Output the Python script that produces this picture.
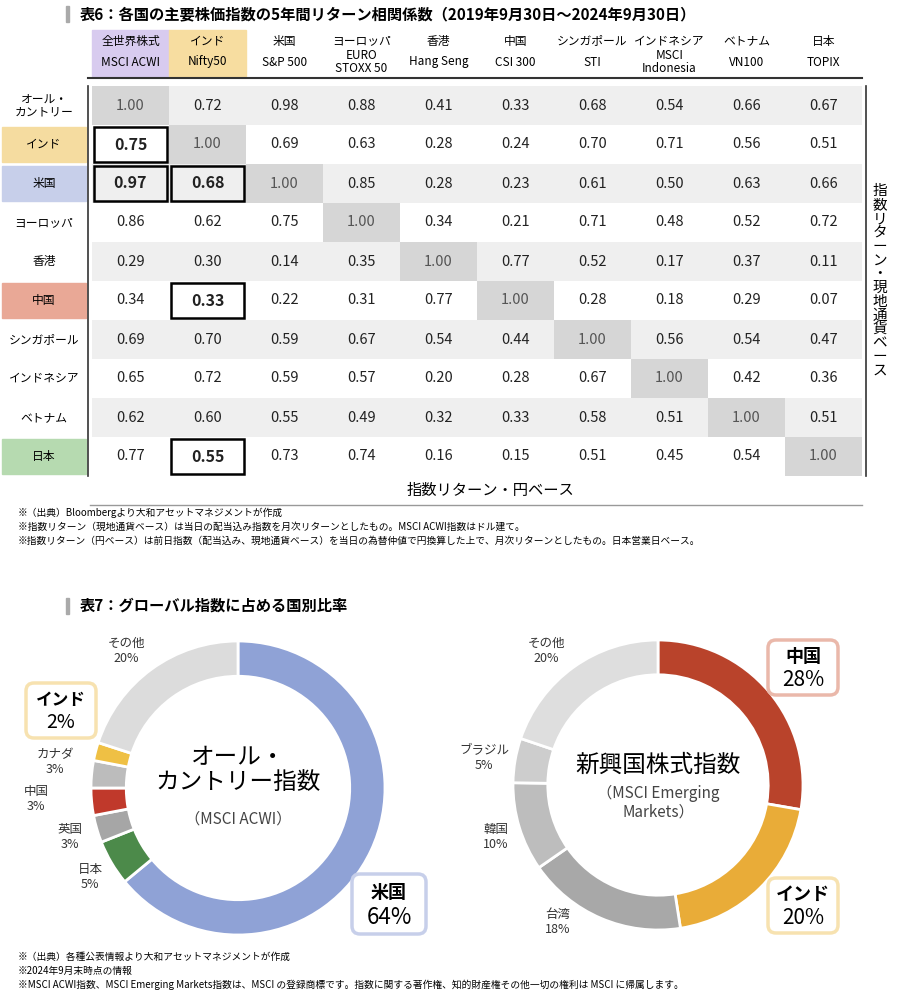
import numpy as np, pandas as pd, seaborn as sns
import matplotlib
matplotlib.use("Agg")
import matplotlib.pyplot as plt
from matplotlib.patches import Rectangle, FancyBboxPatch
from matplotlib.colors import ListedColormap

plt.rcParams["font.family"] = ["Noto Sans CJK JP", "DejaVu Sans"]

col_top = ["全世界株式", "インド", "米国", "ヨーロッパ", "香港", "中国", "シンガポール", "インドネシア", "ベトナム", "日本"]
col_bot = ["MSCI ACWI", "Nifty50", "S&P 500", "EURO\nSTOXX 50", "Hang Seng", "CSI 300", "STI", "MSCI\nIndonesia", "VN100", "TOPIX"]
row_labels = ["オール・\nカントリー", "インド", "米国", "ヨーロッパ", "香港", "中国", "シンガポール", "インドネシア", "ベトナム", "日本"]
corr = [
    [1.00, 0.72, 0.98, 0.88, 0.41, 0.33, 0.68, 0.54, 0.66, 0.67],
    [0.75, 1.00, 0.69, 0.63, 0.28, 0.24, 0.70, 0.71, 0.56, 0.51],
    [0.97, 0.68, 1.00, 0.85, 0.28, 0.23, 0.61, 0.50, 0.63, 0.66],
    [0.86, 0.62, 0.75, 1.00, 0.34, 0.21, 0.71, 0.48, 0.52, 0.72],
    [0.29, 0.30, 0.14, 0.35, 1.00, 0.77, 0.52, 0.17, 0.37, 0.11],
    [0.34, 0.33, 0.22, 0.31, 0.77, 1.00, 0.28, 0.18, 0.29, 0.07],
    [0.69, 0.70, 0.59, 0.67, 0.54, 0.44, 1.00, 0.56, 0.54, 0.47],
    [0.65, 0.72, 0.59, 0.57, 0.20, 0.28, 0.67, 1.00, 0.42, 0.36],
    [0.62, 0.60, 0.55, 0.49, 0.32, 0.33, 0.58, 0.51, 1.00, 0.51],
    [0.77, 0.55, 0.73, 0.74, 0.16, 0.15, 0.51, 0.45, 0.54, 1.00],
]
highlight = [(1, 0), (2, 0), (2, 1), (5, 1), (9, 1)]

acwi_labels = ["米国", "日本", "英国", "中国", "カナダ", "インド", "その他"]
acwi_vals = [64, 5, 3, 3, 3, 2, 20]
acwi_cols = ["#8fa2d6", "#4c8a4a", "#a6a6a6", "#c0392b", "#bcbcbc", "#efc044", "#dcdcdc"]
em_labels = ["中国", "インド", "台湾", "韓国", "ブラジル", "その他"]
em_vals = [28, 20, 18, 10, 5, 20]
em_cols = ["#b9432b", "#e9ac38", "#a8a8a8", "#bdbdbd", "#cdcdcd", "#dedede"]

W, H = 902, 994
fig = plt.figure(figsize=(W/100, H/100), dpi=100)

def ax_px(x0, y0, x1, y1):
    return fig.add_axes([x0/W, 1-y1/H, (x1-x0)/W, (y1-y0)/H])

# overlay axes in pixel coordinates
ov = fig.add_axes([0, 0, 1, 1], zorder=5)
ov.set_xlim(0, W); ov.set_ylim(H, 0); ov.axis("off")

# heatmap table
n = len(corr)
bg = np.array([[2 if i == j else (1 if i % 2 == 0 else 0) for j in range(n)] for i in range(n)])
df = pd.DataFrame(corr, index=row_labels, columns=col_bot)
hx = ax_px(92, 86, 862, 476)
sns.heatmap(pd.DataFrame(bg), cmap=ListedColormap(["#ffffff", "#efefef", "#d6d6d6"]), vmin=0, vmax=2,
            cbar=False, annot=df.map(lambda v: f"{v:.2f}").values, fmt="", ax=hx,
            annot_kws={"fontsize": 10.5, "color": "#222"}, linewidths=0)
for t in hx.texts:
    x, y = t.get_position()
    i, j = int(y), int(x)
    if (i, j) in highlight:
        t.set_fontweight("bold"); t.set_fontsize(11.5)
    if i == j:
        t.set_color("#555")
for (i, j) in highlight:
    hx.add_patch(Rectangle((j+0.02, i+0.04), 0.96, 0.92, fill=False, lw=1.8, ec="black", zorder=4))
hx.set_xticks([]); hx.set_yticks([]); hx.set_xlabel(""); hx.set_ylabel("")
for s in hx.spines.values(): s.set_visible(False)

cw, rh = 77, 39
# title
ov.add_patch(Rectangle((66, 6), 3, 16, color="#aaaaaa"))
ov.text(80, 14, "表6：各国の主要株価指数の5年間リターン相関係数（2019年9月30日～2024年9月30日）",
        fontsize=11, fontweight="bold", va="center")
# headers
hdr_bg = {0: "#d8cbef", 1: "#f7dda0"}
for j in range(n):
    cx = 92 + cw*j + cw/2
    if j in hdr_bg:
        ov.add_patch(Rectangle((92+cw*j, 30), cw, 46, color=hdr_bg[j], zorder=0))
    ov.text(cx, 41, col_top[j], ha="center", va="center", fontsize=8.5)
    ov.text(cx, 62, col_bot[j], ha="center", va="center", fontsize=8.5, linespacing=0.95)
ov.plot([88, 862], [78, 78], color="#333", lw=1.5)
# row labels
row_bg = {1: "#f5dca0", 2: "#c7cfea", 5: "#e9a896", 9: "#b6dab0"}
for i in range(n):
    cy = 86 + rh*i + rh/2
    if i in row_bg:
        ov.add_patch(Rectangle((2, 86+rh*i+2), 84, rh-4, color=row_bg[i], zorder=0))
    ov.text(44, cy, row_labels[i], ha="center", va="center", fontsize=8.5, linespacing=1.0)
ov.plot([88, 88], [86, 476], color="#333", lw=1.2)
ov.plot([866, 866], [86, 476], color="#333", lw=1.2)
ov.text(880, 281, "\n".join("指数リターン・現地通貨ベース"), ha="center", va="center", fontsize=10.5, linespacing=0.98)
ov.text(490, 490, "指数リターン・円ベース", ha="center", va="center", fontsize=11)
ov.plot([90, 862], [505, 505], color="#999", lw=1)
notes1 = ["※（出典）Bloombergより大和アセットマネジメントが作成",
          "※指数リターン（現地通貨ベース）は当日の配当込み指数を月次リターンとしたもの。MSCI ACWI指数はドル建て。",
          "※指数リターン（円ベース）は前日指数（配当込み、現地通貨ベース）を当日の為替仲値で円換算した上で、月次リターンとしたもの。日本営業日ベース。"]
for k, s in enumerate(notes1):
    ov.text(18, 513+k*14, s, fontsize=7, va="center")

# section 2 title
ov.add_patch(Rectangle((66, 598), 3, 16, color="#aaaaaa"))
ov.text(80, 606, "表7：グローバル指数に占める国別比率", fontsize=11, fontweight="bold", va="center")

def donut(cx, cy, r, vals, cols):
    a = ax_px(cx-r, cy-r, cx+r, cy+r)
    a.pie(vals, colors=cols, startangle=90, counterclock=False,
          wedgeprops=dict(width=0.24, edgecolor="white", linewidth=2))
    a.set_xlim(-1, 1); a.set_ylim(-1, 1); a.set_aspect("equal")

donut(238, 788, 147, acwi_vals, acwi_cols)
donut(658, 785, 145, em_vals, em_cols)

ov.text(238, 770, "オール・\nカントリー指数", ha="center", va="center", fontsize=17, linespacing=1.15)
ov.text(238, 819, "（MSCI ACWI）", ha="center", va="center", fontsize=11, color="#444")
ov.text(658, 765, "新興国株式指数", ha="center", va="center", fontsize=17)
ov.text(658, 803, "（MSCI Emerging\nMarkets）", ha="center", va="center", fontsize=11, color="#444", linespacing=1.1)

def box(x0, y0, w, h, ec, t1, t2, fs1=13, fs2=15):
    ov.add_patch(FancyBboxPatch((x0, y0), w, h, boxstyle="round,pad=0,rounding_size=8",
                                fc="white", ec=ec, lw=2.5, zorder=6))
    ov.text(x0+w/2, y0+h*0.3, t1, ha="center", va="center", fontsize=fs1, fontweight="bold", zorder=7)
    ov.text(x0+w/2, y0+h*0.72, t2, ha="center", va="center", fontsize=fs2, zorder=7)

box(352, 874, 74, 60, "#c7cfea", "米国", "64%", 13, 16)
box(26, 683, 70, 55, "#f7e2b0", "インド", "2%", 12, 14)
box(768, 640, 70, 55, "#eab8aa", "中国", "28%", 13, 15)
box(768, 878, 70, 55, "#f7e2b0", "インド", "20%", 13, 15)

small = [(126, 651, "その他\n20%"), (55, 762, "カナダ\n3%"), (36, 799, "中国\n3%"), (70, 837, "英国\n3%"),
         (90, 877, "日本\n5%"), (546, 651, "その他\n20%"), (484, 758, "ブラジル\n5%"),
         (496, 837, "韓国\n10%"), (558, 922, "台湾\n18%")]
for x, y, s in small:
    ov.text(x, y, s, ha="center", va="center", fontsize=9, color="#333", linespacing=1.15)

notes2 = ["※（出典）各種公表情報より大和アセットマネジメントが作成", "※2024年9月末時点の情報",
          "※MSCI ACWI指数、MSCI Emerging Markets指数は、MSCI の登録商標です。指数に関する著作権、知的財産権その他一切の権利は MSCI に帰属します。"]
for k, s in enumerate(notes2):
    ov.text(18, 957+k*14, s, fontsize=7, va="center")

fig.savefig("out.png", dpi=100, facecolor="white")
